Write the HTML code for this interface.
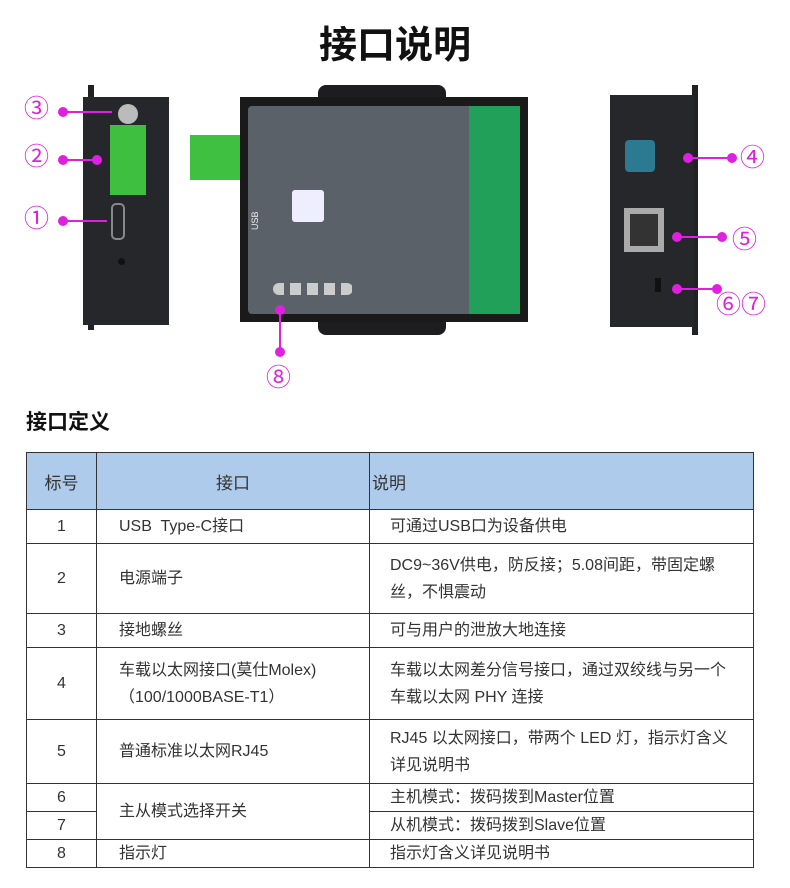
<!DOCTYPE html>
<html><head><meta charset="utf-8"><style>
body{margin:0;width:790px;height:888px;background:#fff;font-family:"Liberation Sans","Noto Sans CJK SC",sans-serif;position:relative;overflow:hidden}
.a{position:absolute}
.m{color:#e020e0;font-size:25px;line-height:25px}
.dot{width:10px;height:10px;border-radius:50%;background:#e020e0}
.ln{height:2px;background:#e020e0}
table{position:absolute;left:26px;top:452px;width:728px;border-collapse:collapse;font-size:16px;color:#333;table-layout:fixed}
td{border:1px solid #333;padding:0 14px 0 6px;line-height:27px}
th{border:1px solid #333;background:#aecbeb;font-weight:normal;height:54px;font-size:17px;color:#333}
</style></head><body>
<div class="a" style="left:0;top:14px;width:790px;text-align:center;font-size:38px;font-weight:bold;color:#111">接口说明</div>

<div class="a" style="left:88px;top:85px;width:6px;height:245px;background:#222"></div>
<div class="a" style="left:83px;top:97px;width:86px;height:228px;background:#26272b"></div>
<div class="a" style="left:118px;top:104px;width:20px;height:20px;border-radius:50%;background:#bbb"></div>
<div class="a" style="left:110px;top:125px;width:36px;height:70px;background:#3fbf3f"></div>
<div class="a" style="left:111px;top:203px;width:10px;height:33px;border:2px solid #888;border-radius:5px"></div>
<div class="a" style="left:118px;top:258px;width:7px;height:7px;border-radius:50%;background:#111"></div>
<div class="a m" style="left:24px;top:97px">③</div><div class="a dot" style="left:58px;top:107px"></div><div class="a ln" style="left:62px;top:111px;width:50px"></div>
<div class="a m" style="left:24px;top:145px">②</div><div class="a dot" style="left:58px;top:155px"></div><div class="a ln" style="left:62px;top:159px;width:34px"></div><div class="a dot" style="left:92px;top:155px"></div>
<div class="a m" style="left:24px;top:207px">①</div><div class="a dot" style="left:58px;top:216px"></div><div class="a ln" style="left:62px;top:220px;width:45px"></div>

<div class="a" style="left:318px;top:85px;width:128px;height:250px;background:#1d1d1f;border-radius:8px"></div>
<div class="a" style="left:190px;top:135px;width:52px;height:45px;background:#40c040"></div>
<div class="a" style="left:240px;top:97px;width:288px;height:225px;background:#1a1a1a"></div>
<div class="a" style="left:248px;top:106px;width:272px;height:208px;background:#5b6168;border-radius:4px"></div>
<div class="a" style="left:469px;top:106px;width:51px;height:208px;background:#21a05a"></div>
<div class="a" style="left:292px;top:190px;width:32px;height:32px;background:#eef;border-radius:3px"></div>
<div class="a" style="left:273px;top:283px;width:80px;height:12px;background:repeating-linear-gradient(90deg,#ccc 0 11px,transparent 11px 17px);border-radius:6px"></div>
<div class="a" style="left:250px;font-size:9px;color:#eee;transform:rotate(-90deg);transform-origin:left top;top:230px">USB</div>
<div class="a dot" style="left:275px;top:305px"></div><div class="a" style="left:279px;top:310px;width:2px;height:42px;background:#e020e0"></div><div class="a dot" style="left:275px;top:347px"></div>
<div class="a m" style="left:266px;top:366px">⑧</div>

<div class="a" style="left:692px;top:85px;width:6px;height:250px;background:#222"></div>
<div class="a" style="left:610px;top:95px;width:84px;height:232px;background:#26272b"></div>
<div class="a" style="left:625px;top:140px;width:30px;height:32px;background:#2c7a92;border-radius:4px"></div>
<div class="a" style="left:624px;top:208px;width:40px;height:44px;background:#aaa"></div>
<div class="a" style="left:630px;top:214px;width:28px;height:32px;background:#333"></div>
<div class="a" style="left:655px;top:278px;width:6px;height:14px;background:#111"></div>
<div class="a dot" style="left:683px;top:153px"></div><div class="a ln" style="left:687px;top:157px;width:44px"></div><div class="a dot" style="left:727px;top:153px"></div><div class="a m" style="left:740px;top:146px">④</div>
<div class="a dot" style="left:672px;top:232px"></div><div class="a ln" style="left:676px;top:236px;width:45px"></div><div class="a dot" style="left:717px;top:232px"></div><div class="a m" style="left:732px;top:228px">⑤</div>
<div class="a dot" style="left:672px;top:284px"></div><div class="a ln" style="left:676px;top:288px;width:40px"></div><div class="a dot" style="left:712px;top:284px"></div><div class="a m" style="left:716px;top:293px">⑥⑦</div>

<div class="a" style="left:26px;top:406px;font-size:21px;font-weight:bold;color:#111">接口定义</div>

<table>
<colgroup><col style="width:70px"><col style="width:273px"><col></colgroup>
<tr><th>标号</th><th>接口</th><th style="text-align:left;padding-left:2px">说明</th></tr>
<tr style="height:34px"><td align="center" style="padding:0">1</td><td style="padding-left:22px">USB&nbsp; Type-C接口</td><td style="padding-left:20px">可通过USB口为设备供电</td></tr>
<tr style="height:70px"><td align="center" style="padding:0">2</td><td style="padding-left:22px">电源端子</td><td style="padding-left:20px">DC9~36V供电，防反接；5.08间距，带固定螺丝，不惧震动</td></tr>
<tr style="height:34px"><td align="center" style="padding:0">3</td><td style="padding-left:22px">接地螺丝</td><td style="padding-left:20px">可与用户的泄放大地连接</td></tr>
<tr style="height:72px"><td align="center" style="padding:0">4</td><td style="padding-left:22px">车载以太网接口(莫仕Molex)<br>（100/1000BASE-T1）</td><td style="padding-left:20px">车载以太网差分信号接口，通过双绞线与另一个车载以太网 PHY 连接</td></tr>
<tr style="height:64px"><td align="center" style="padding:0">5</td><td style="padding-left:22px">普通标准以太网RJ45</td><td style="padding-left:20px">RJ45 以太网接口，带两个 LED 灯，指示灯含义详见说明书</td></tr>
<tr style="height:28px"><td align="center" style="padding:0">6</td><td rowspan="2" style="padding-left:22px">主从模式选择开关</td><td style="padding-left:20px">主机模式：拨码拨到Master位置</td></tr>
<tr style="height:28px"><td align="center" style="padding:0">7</td><td style="padding-left:20px">从机模式：拨码拨到Slave位置</td></tr>
<tr style="height:27px"><td align="center" style="padding:0">8</td><td style="padding-left:22px">指示灯</td><td style="padding-left:20px">指示灯含义详见说明书</td></tr>
</table>
</body></html>
